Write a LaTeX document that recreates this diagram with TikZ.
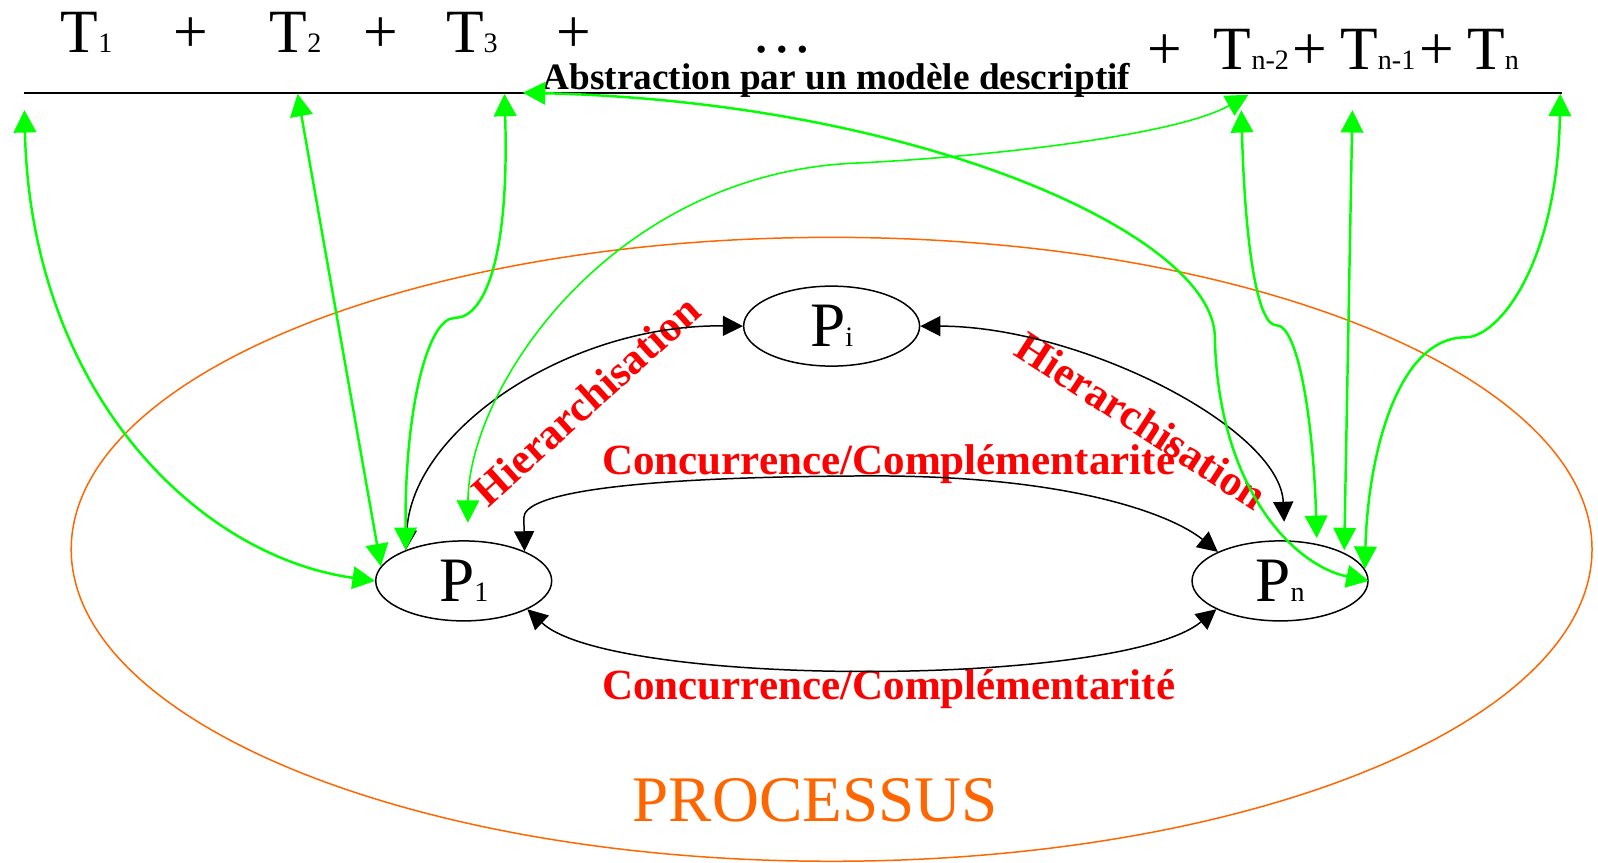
\documentclass[tikz,border=0pt]{standalone}
\usepackage{fontspec}
\setmainfont{Liberation Serif}
\usetikzlibrary{shapes.geometric,arrows.meta}
\newcommand{\subidx}[1]{{\fontsize{16}{16}\selectfont #1}}

\begin{document}
\begin{tikzpicture}[x=0.020383cm,y=-0.020383cm,
  proc/.style={ellipse,draw,line width=0.85pt,minimum width=3.52cm,minimum height=1.6cm,inner sep=0pt,font=\fontsize{36}{36}\selectfont},
  term/.style={anchor=base,inner sep=0pt,font=\fontsize{35}{35}\selectfont},
  rel/.style={text=red,inner sep=0pt,font=\bfseries\fontsize{24.5}{24.5}\selectfont},
  link/.style={line width=0.85pt,>={Triangle[length=0.4cm,width=0.4cm]},<->},
  trace/.style={flashgreen,line width=1.4pt,>={Triangle[length=0.45cm,width=0.45cm]},<->}]
\definecolor{flashgreen}{HTML}{00FF00}
\definecolor{procorange}{HTML}{FF6600}
\useasboundingbox (0,0) rectangle (1568,846);

% the process
\draw[procorange,line width=0.85pt] (816,539) ellipse [x radius=15.21cm,y radius=6.24cm];
\node[anchor=base,text=procorange,inner sep=0pt,font=\fontsize{37}{37}\selectfont] (procname) at (800,806) {PROCESSUS};

% the terms and the model line
\foreach \txt/\xx/\yy/\nm in {T\subidx{1}/85/52/ta, +/187/52/pa, T\subidx{2}/290/52/tb, +/374/52/pb,
    T\subidx{3}/463/52/tc, +/563/52/pc, \dots/768/52/dots, +/1143/68/pd, T\subidx{n-2}/1228/68/tx,
    +/1285/68/pe, T\subidx{n-1}/1352/68/ty, +/1410/68/pf, T\subidx{n}/1465/68/tz}
  {\node[term,name=\nm] at (\xx,\yy) {\txt};}
\coordinate (la) at (24,91);
\coordinate (lb) at (1533,91);
\draw[line width=1.1pt] (la) -- (lb);
\node[anchor=base west,inner sep=0pt,font=\bfseries\fontsize{21.2}{21.2}\selectfont] (abs) at (532,88) {Abstraction par un modèle descriptif};

% sub-processes
\node[proc] (p1) at (455,570) {P\subidx{1}};
\node[proc] (pi) at (816,320) {P\subidx{i}};
\node[proc] (pn) at (1256,570) {P\subidx{n}};

\node[rel,rotate=42] (hier1) at (575,393) {Hierarchisation};
\node[rel,rotate=-33] (hier2) at (1120,413) {Hierarchisation};
\node[rel,anchor=base] (conc1) at (872,466) {Concurrence/Complémentarité};
\node[rel,anchor=base] (conc2) at (872,686) {Concurrence/Complémentarité};

\coordinate (hn) at (1260,512);
\draw[link] (p1.152) .. controls (405,420) and (560,318) .. (pi.west);
\draw[link] (pi.east) .. controls (1060,320) and (1256,420) .. (hn);
\draw[link] (p1.26) -- (514,508) .. controls (514,486) and (600,468) .. (850,467) .. controls (1050,466) and (1150,505) .. (pn.155);
\draw[link] (p1.-24) .. controls (600,675) and (1100,675) .. (pn.204);

% links to the terms
\coordinate (e1) at (24,108);
\coordinate (e2) at (292,92);
\coordinate (e3) at (495,92);
\coordinate (e3b) at (513,91);
\coordinate (en2) at (1225,93);
\coordinate (en2b) at (1218,108);
\coordinate (en1) at (1327,108);
\coordinate (en) at (1531,92);
\coordinate (h1) at (459,513);
\coordinate (gn2) at (1292,528);
\coordinate (gn1) at (1319,540);

\draw[trace] (e1) .. controls (30,380) and (190,545) .. (p1.west);
\draw[trace] (e2) -- (p1.170);
\draw[trace] (e3) .. controls (500,255) and (475,312) .. (446,312) .. controls (420,312) and (397,400) .. (p1.152);
\draw[trace,line width=0.9pt] (en2) .. controls (1150,135) and (950,155) .. (840,160) .. controls (600,170) and (460,380) .. (h1);
\draw[trace] (e3b) .. controls (900,100) and (1190,230) .. (1192,330) .. controls (1195,480) and (1270,555) .. (pn.east);
\draw[trace] (en2b) .. controls (1222,250) and (1235,319) .. (1252,319) .. controls (1275,319) and (1289,420) .. (gn2);
\draw[trace] (en1) -- (gn1);
\draw[trace] (en) .. controls (1528,260) and (1470,331) .. (1438,331) .. controls (1370,331) and (1342,450) .. (pn.8);
\end{tikzpicture}
\end{document}
